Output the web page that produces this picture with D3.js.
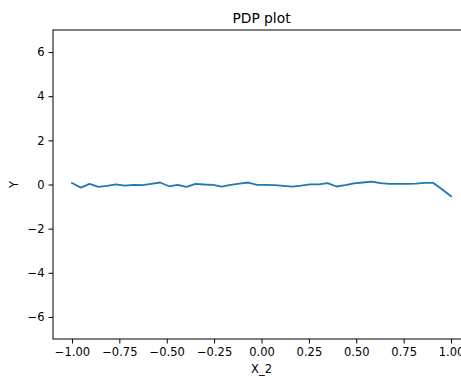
<!DOCTYPE html>
<html>
<head>
<meta charset="utf-8">
<script src="https://cdn.jsdelivr.net/npm/d3@7"></script>
<style>
  html, body { margin: 0; padding: 0; background: #fff; }
  svg { display: block; font-family: "DejaVu Sans", sans-serif; }
</style>
</head>
<body>
<svg id="chart" width="461" height="376"></svg>
<script>
// Partial dependence of Y on X_2, evaluated on an evenly spaced grid of 44 points
const gridCount = 44;
const xGrid = d3.range(gridCount).map(i => -1 + 2 * i / (gridCount - 1));
const pdpValues = [
  0.07, -0.14, 0.03, -0.11, -0.06, 0.01, -0.05, -0.02, -0.03, 0.03,
  0.09, -0.08, -0.02, -0.11, 0.03, 0.00, -0.02, -0.10, -0.02, 0.04,
  0.09, -0.02, -0.02, -0.03, -0.06, -0.10, -0.05, 0.01, 0.01, 0.06,
  -0.09, -0.03, 0.05, 0.09, 0.13, 0.06, 0.03, 0.03, 0.03, 0.04,
  0.07, 0.07, -0.23, -0.53
];
const xTicks = [-1.0, -0.75, -0.5, -0.25, 0.0, 0.25, 0.5, 0.75, 1.0];
const yTicks = [-6, -4, -2, 0, 2, 4, 6];

const svg = d3.select("#chart");
const margin = { left: 53, top: 30, right: 470, bottom: 339 };

const x = d3.scaleLinear().domain([-1.1, 1.1]).range([margin.left, margin.right]);
const y = d3.scaleLinear().domain([-7, 7]).range([margin.bottom, margin.top]);

const tickFont = 11.5;
const minus = s => s.replace("-", "\u2212");

// x axis
const xAxis = d3.axisBottom(x)
  .tickValues(xTicks)
  .tickSize(4.5)
  .tickPadding(4)
  .tickFormat(d => minus(d3.format(".2f")(d)));
const gx = svg.append("g")
  .attr("transform", `translate(0,${margin.bottom})`)
  .call(xAxis);

// y axis
const yAxis = d3.axisLeft(y)
  .tickValues(yTicks)
  .tickSize(4.5)
  .tickPadding(4)
  .tickFormat(d => minus(d3.format("d")(d)));
const gy = svg.append("g")
  .attr("transform", `translate(${margin.left},0)`)
  .call(yAxis);

[gx, gy].forEach(g => {
  g.select(".domain").remove();
  g.selectAll(".tick line").attr("stroke", "#000").attr("stroke-width", 1);
  g.selectAll(".tick text")
    .attr("fill", "#000")
    .style("font-size", tickFont + "px")
    .style("font-family", "DejaVu Sans, sans-serif");
});

// axes frame
svg.append("rect")
  .attr("x", margin.left)
  .attr("y", margin.top)
  .attr("width", margin.right - margin.left)
  .attr("height", margin.bottom - margin.top)
  .attr("fill", "none")
  .attr("stroke", "#000")
  .attr("stroke-width", 1);

// PDP curve
const line = d3.line()
  .x((d, i) => x(xGrid[i]))
  .y(d => y(d));
svg.append("path")
  .datum(pdpValues)
  .attr("d", line)
  .attr("fill", "none")
  .attr("stroke", "#1f77b4")
  .attr("stroke-width", 1.8)
  .attr("stroke-linejoin", "round")
  .attr("stroke-linecap", "square");

// title and axis labels
svg.append("text")
  .attr("x", (margin.left + margin.right) / 2)
  .attr("y", 23)
  .attr("text-anchor", "middle")
  .style("font-size", "13.8px")
  .attr("fill", "#000")
  .text("PDP plot");

svg.append("text")
  .attr("x", (margin.left + margin.right) / 2)
  .attr("y", 373)
  .attr("text-anchor", "middle")
  .style("font-size", tickFont + "px")
  .attr("fill", "#000")
  .text("X_2");

svg.append("text")
  .attr("transform", `translate(18,${y(0)}) rotate(-90)`)
  .attr("text-anchor", "middle")
  .style("font-size", tickFont + "px")
  .attr("fill", "#000")
  .text("Y");
</script>
</body>
</html>
